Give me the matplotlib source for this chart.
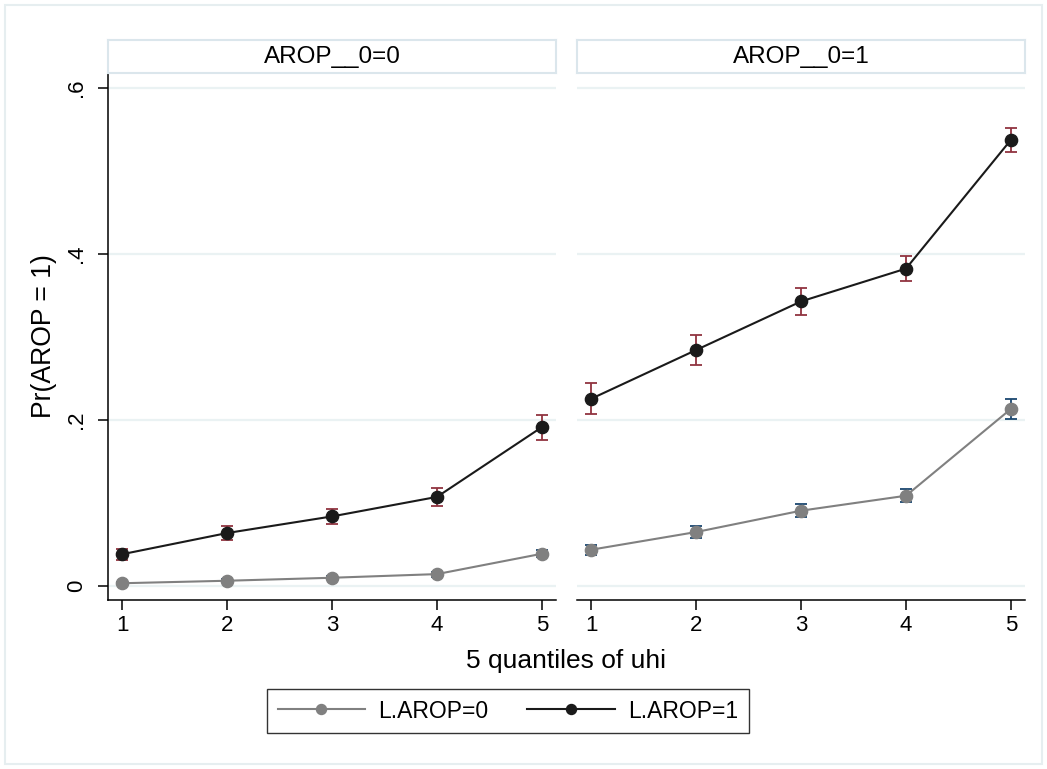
import matplotlib
matplotlib.use("Agg")
import matplotlib.pyplot as plt
from matplotlib.patches import Rectangle
import numpy as np

plt.rcParams['font.family'] = ['Liberation Sans', 'DejaVu Sans']

quantiles = [1, 2, 3, 4, 5]
panel_titles = ["AROP__0=0", "AROP__0=1"]
series_labels = ["L.AROP=0", "L.AROP=1"]

# panel AROP__0=0
p0_l0 = [0.003, 0.006, 0.0096, 0.014, 0.0385]
p0_l0_err = [0.001, 0.0015, 0.002, 0.003, 0.004]
p0_l1 = [0.038, 0.0635, 0.0835, 0.107, 0.191]
p0_l1_err = [0.0068, 0.0085, 0.0095, 0.011, 0.015]
# panel AROP__0=1
p1_l0 = [0.0434, 0.0647, 0.0904, 0.1084, 0.2129]
p1_l0_err = [0.006, 0.007, 0.0076, 0.008, 0.012]
p1_l1 = [0.2253, 0.284, 0.3425, 0.382, 0.537]
p1_l1_err = [0.0185, 0.018, 0.0165, 0.0155, 0.0143]

yticks = [0, 0.2, 0.4, 0.6]
ytick_labels = ["0", ".2", ".4", ".6"]

W, H = 1047, 769
fig = plt.figure(figsize=(W / 100, H / 100), dpi=100)
fig.patch.set_facecolor("white")

# outer frame
fig.add_artist(Rectangle((5 / W, 5 / H), (W - 10) / W, (H - 10) / H, transform=fig.transFigure,
                         fill=False, edgecolor="#e6eef0", lw=1.5))

gray = "#808080"
black = "#1a1a1a"
red = "#913440"
blue = "#1a476f"
gridc = "#eaf2f3"

def fx(px):
    return px / W

def fy(py):
    return 1 - py / H

panel_x = [108, 577]
pw = 448
top, bottom = 72.7, 600
data = [(p0_l0, p0_l0_err, p0_l1, p0_l1_err), (p1_l0, p1_l0_err, p1_l1, p1_l1_err)]

tick_fs = 16
axes = []
for i in range(2):
    ax = fig.add_axes([fx(panel_x[i]), fy(bottom), pw / W, (bottom - top) / H])
    axes.append(ax)
    l0, e0, l1, e1 = data[i]
    ax.set_xlim(0.863, 5.135)
    ax.set_ylim(-0.0172, 0.618)
    for yt in yticks:
        ax.axhline(yt, color=gridc, lw=1.6, zorder=0)
    ax.errorbar(quantiles, l0, yerr=e0, fmt="none", ecolor=blue, elinewidth=1.3, capsize=4.3,
                capthick=1.3, zorder=2)
    ax.errorbar(quantiles, l1, yerr=e1, fmt="none", ecolor=red, elinewidth=1.3, capsize=4.3,
                capthick=1.3, zorder=2)
    ax.plot(quantiles, l0, color=gray, lw=1.5, marker="o", ms=8.8, mfc=gray, mec=gray, zorder=3,
            label=series_labels[0])
    ax.plot(quantiles, l1, color=black, lw=1.5, marker="o", ms=8.8, mfc=black, mec=black, zorder=4,
            label=series_labels[1])
    for s in ["top", "right"]:
        ax.spines[s].set_visible(False)
    ax.spines["bottom"].set_linewidth(1.1)
    ax.spines["left"].set_linewidth(1.1)
    ax.set_xticks(quantiles)
    ax.set_xticklabels([str(q) for q in quantiles])
    ax.tick_params(axis="x", length=7, width=1.1, labelsize=tick_fs, pad=4)
    if i == 0:
        ax.set_yticks(yticks)
        ax.set_yticklabels(ytick_labels, rotation=90, va="center")
        ax.tick_params(axis="y", length=7, width=1.1, labelsize=tick_fs, pad=8)
    else:
        ax.spines["left"].set_visible(False)
        ax.set_yticks([])

    # strip
    sax = fig.add_axes([fx(panel_x[i]), fy(top), pw / W, (top - 40) / H])
    sax.set_xticks([])
    sax.set_yticks([])
    for s in sax.spines.values():
        s.set_color("#dbe6ec")
        s.set_linewidth(1.5)
    sax.text(0.5, 0.48, panel_titles[i], ha="center", va="center", fontsize=17.5,
             transform=sax.transAxes)

fig.text(fx(44), fy(336), "Pr(AROP = 1)", rotation=90, ha="center", va="center", fontsize=19.2)
fig.text(fx(566), fy(668), "5 quantiles of uhi", ha="center", va="baseline", fontsize=19)

handles, labels = axes[0].get_legend_handles_labels()
leg = fig.legend(handles, labels, loc="center", bbox_to_anchor=(fx(508), fy(711)), ncol=2,
                 fontsize=16.5, frameon=True, fancybox=False, edgecolor="black", handlelength=3.8,
                 columnspacing=1.7, borderpad=0.45, handletextpad=0.6, borderaxespad=0)
leg.get_frame().set_linewidth(1.0)
for h in leg.legend_handles:
    h.set_markersize(7.2)

fig.savefig("out.png", dpi=100, facecolor="white")
